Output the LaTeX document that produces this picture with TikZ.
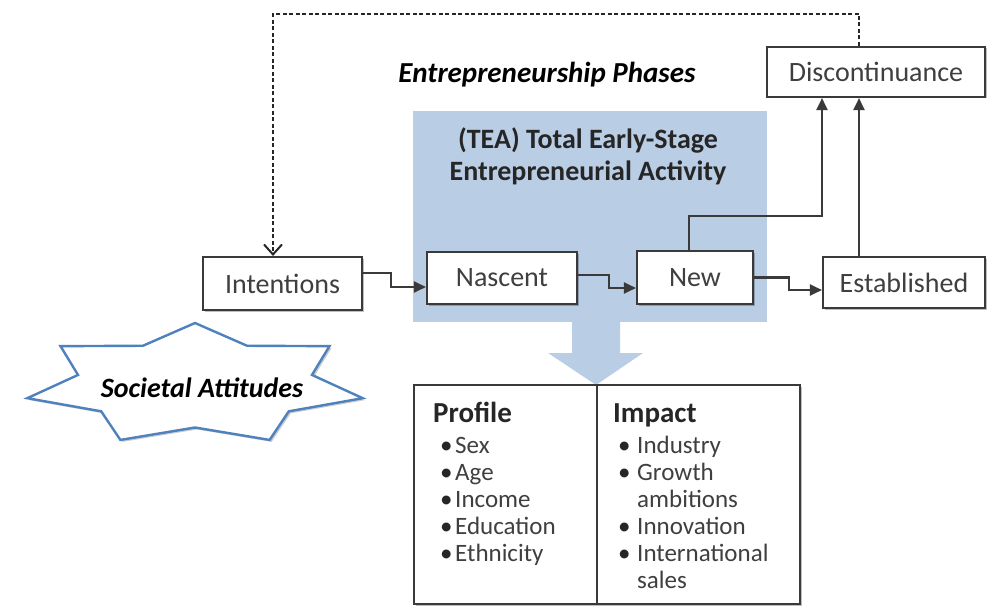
\documentclass[tikz,border=0pt]{standalone}
\usepackage{fontspec}
\setmainfont{Carlito}
\usetikzlibrary{arrows.meta,calc,shadows}
\definecolor{boxline}{HTML}{3A3A3A}
\definecolor{txt}{HTML}{3F3F3F}
\definecolor{teablue}{HTML}{B9CDE5}
\definecolor{starblue}{HTML}{4F81BD}
\begin{document}
\begin{tikzpicture}[x=1pt,y=-1pt,
  softshadow/.style={drop shadow={shadow xshift=1.5pt, shadow yshift=-1.5pt, opacity=0.25, fill=black}},
  phase/.style={draw=boxline, line width=2.1pt, fill=white, inner sep=0pt,
    font=\fontsize{28}{30}\selectfont, text=txt, align=center, softshadow},
  conn/.style={draw=boxline, line width=2.1pt, -{Triangle[length=12pt,width=11pt]}},
  dashconn/.style={draw=black!85, line width=2pt, dash pattern=on 4pt off 2.5pt,
    -{Straight Barb[length=10pt,width=18pt]}},
  listitem/.style={anchor=base west, inner sep=0pt, font=\fontsize{25}{27}\selectfont, text=txt},
  listhead/.style={anchor=base west, inner sep=0pt, font=\bfseries\fontsize{29}{30}\selectfont, text=black!85},
  bul/.style={anchor=base west, inner sep=0pt, font=\fontsize{25}{27}\selectfont, text=black!85}
]
\useasboundingbox (0,0) rectangle (987,607);

% TEA background
\node[fill=teablue, minimum width=354pt, minimum height=211pt, inner sep=0pt] (tea) at (590,216.5) {};
\node[font=\bfseries\fontsize{28}{32}\selectfont, text=black!85, align=center] (tealabel) at (588,156)
  {(TEA) Total Early-Stage\\Entrepreneurial Activity};

% block arrow
\fill[teablue] (572,322) -- (620,322) -- (620,353) -- (643,353) -- (596,385) -- (548,353) -- (572,353) -- cycle;

% phase boxes
\node[phase, minimum width=159pt, minimum height=53pt] (intent) at (282.5,283.5) {Intentions};
\node[phase, minimum width=150pt, minimum height=52pt] (nascent) at (502,278) {Nascent};
\node[phase, minimum width=116pt, minimum height=53pt] (new) at (695,277.5) {New};
\node[phase, minimum width=162pt, minimum height=51pt] (estab) at (904,282.5) {Established};
\node[phase, minimum width=218pt, minimum height=50pt] (disc) at (876,72) {Discontinuance};

\node[font=\bfseries\itshape\fontsize{29}{30}\selectfont] (phases) at (547,75) {Entrepreneurship Phases};

% connectors
\draw[conn] ([yshift=10.5pt]intent.east) -- ++(28,0) |- ([yshift=-9pt]nascent.west);
\draw[conn] ([yshift=3pt]nascent.east) -- ++(31,0) |- ([yshift=-10.5pt]new.west);
\draw[conn] (new.east) -- ++(35,0) |- ([yshift=-7.5pt]estab.west);
\draw[conn] ([xshift=-6pt]new.north) -- ++(0,-34) -| ([xshift=-54pt]disc.south);
\draw[conn] ([xshift=-45pt]estab.north) -- ([xshift=-17pt]disc.south);
\draw[dashconn] ([xshift=-17pt]disc.north) -- ++(0,-32) -| ([xshift=-9.5pt]intent.north);

% profile / impact box
\node[draw=boxline, line width=1.6pt, fill=white, softshadow, minimum width=386pt, minimum height=219pt, inner sep=0pt] (pbox) at (607,494.5) {};
\coordinate (divtop) at (597,385);
\coordinate (divbot) at (597,604);
\draw[boxline, line width=1.6pt] (divtop) -- (divbot);

\node[listhead] (prof) at (433,422) {Profile};
\foreach \t/\y [count=\i] in {Sex/453, Age/480, Income/507, Education/534, Ethnicity/561}{
  \node[bul] (pb\i) at (440,\y) {•};
  \node[listitem] (pt\i) at (455,\y) {\t};
}
\node[listhead] (imp) at (613,422) {Impact};
\foreach \t/\y [count=\i] in {Industry/453, Growth/480, Innovation/534, International/561}{
  \node[bul] (ib\i) at (618,\y) {•};
  \node[listitem] (it\i) at (637,\y) {\t};
}
\node[listitem] (it5) at (637,507) {ambitions};
\node[listitem] (it6) at (637,588) {sales};

% societal attitudes star (7 points)
\draw[starblue, line width=2.4pt, fill=white, line join=miter,
      drop shadow={shadow xshift=2pt, shadow yshift=-2pt, opacity=0.2, fill=black}]
  ({195+172*cos(90)},{384.5-61.5*sin(90)})
  \foreach \k in {1,...,13}{
    -- ({195+(146+26*cos(\k*180))*cos(90-\k*360/14)},{384.5-(52.25+9.25*cos(\k*180))*sin(90-\k*360/14)})
  } -- cycle;
\node[font=\bfseries\itshape\fontsize{28}{30}\selectfont] (soc) at (202,388) {Societal Attitudes};
\end{tikzpicture}
\end{document}
